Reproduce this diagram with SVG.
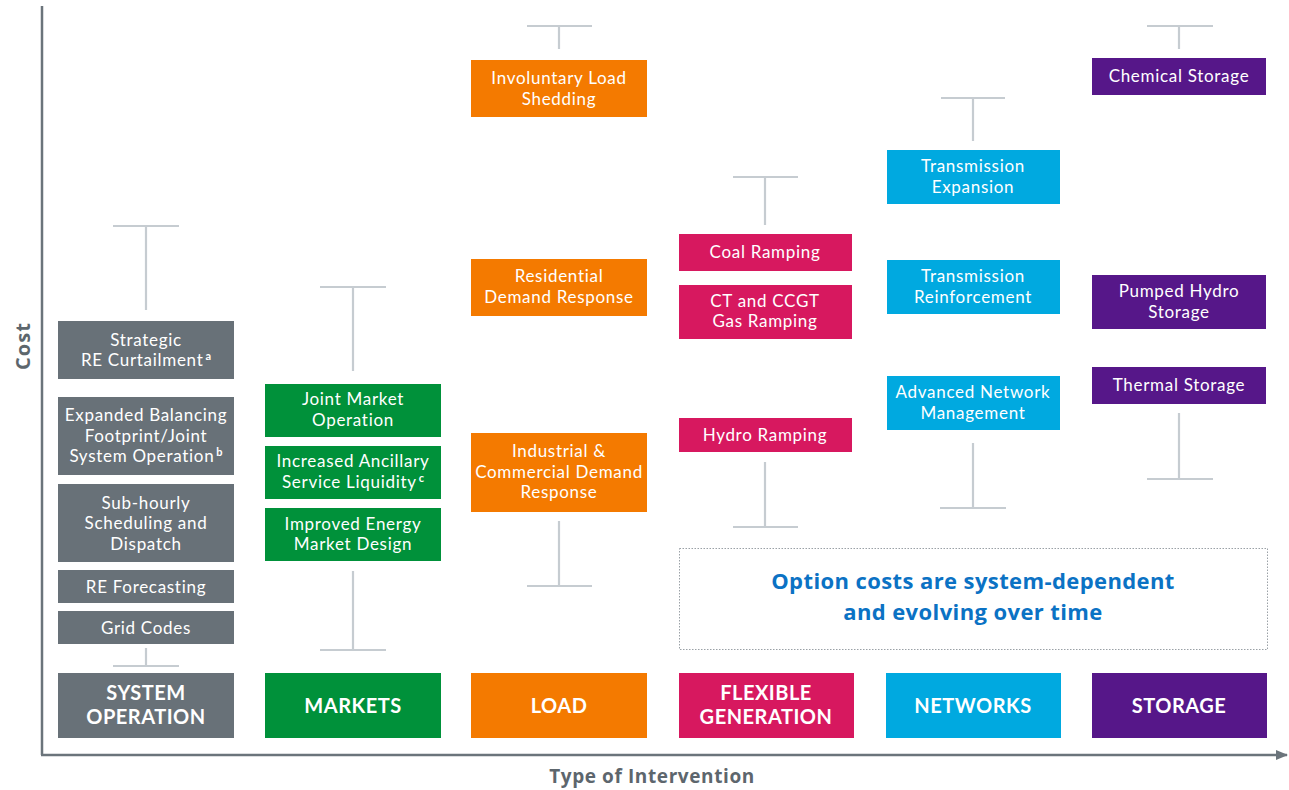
<svg xmlns="http://www.w3.org/2000/svg" width="1289" height="790" viewBox="0 0 1289 790">
<defs>
<marker id="ah" viewBox="0 0 10 10" refX="9" refY="5" markerWidth="5" markerHeight="5" orient="auto" markerUnits="strokeWidth">
<path d="M0,1 L10,5 L0,9 z" fill="#6b747b"/>
</marker>
<style>
.ax{stroke:#6b747b;stroke-width:2.5;fill:none}
.tb{stroke:#c6ccd1;stroke-width:2.2;fill:none}
.t{font-family:Lato,"Open Sans","DejaVu Sans",sans-serif;font-size:17px;letter-spacing:0.7px;fill:#ffffff;text-anchor:middle}
.c{font-family:Lato,"Open Sans","DejaVu Sans",sans-serif;font-size:20px;letter-spacing:0.5px;font-weight:bold;fill:#ffffff;text-anchor:middle}
.sup{font-size:11px;font-weight:bold;letter-spacing:0}
.axl{font-family:"Open Sans",Lato,"DejaVu Sans",sans-serif;font-size:19px;letter-spacing:0.6px;font-weight:bold;fill:#5d666d;text-anchor:middle}
.note{font-family:"Open Sans",Lato,"DejaVu Sans",sans-serif;font-size:22px;letter-spacing:0.4px;font-weight:bold;fill:#0b72c4;text-anchor:middle}
.gr{fill:#687178}.gn{fill:#00913a}.or{fill:#f47a00}.mg{fill:#d7185f}.cy{fill:#00a9e0}.pu{fill:#561789}
</style>
</defs>
<rect width="1289" height="790" fill="#ffffff"/>

<g id="axes">
<line class="ax" x1="42" y1="6" x2="42" y2="755"/>
<line class="ax" x1="41" y1="755" x2="1287" y2="755" marker-end="url(#ah)"/>
<text class="axl" style="font-size:20px;letter-spacing:1px" transform="translate(30,346) rotate(-90)">Cost</text>
<text class="axl" x="652" y="783">Type of Intervention</text>
</g>

<g id="connectors">
<path class="tb" d="M113,226H179M146,226V310"/>
<path class="tb" d="M146,648V666M113,666H179"/>
<path class="tb" d="M320,287H386M353,287V371"/>
<path class="tb" d="M353,571V650M320,650H386"/>
<path class="tb" d="M527,26H592M559,26V49"/>
<path class="tb" d="M559,521V586M527,586H592"/>
<path class="tb" d="M733,177H798M765,177V225"/>
<path class="tb" d="M765,462V527M733,527H798"/>
<path class="tb" d="M941,98H1005M973,98V141"/>
<path class="tb" d="M973,443V508M940,508H1006"/>
<path class="tb" d="M1147,26H1213M1179,26V49"/>
<path class="tb" d="M1179,413V479M1147,479H1213"/>
</g>

<g id="sysop">
<g id="n-strategic"><rect class="gr" x="58" y="321" width="176" height="58"/><text class="t" x="146" y="345.5">Strategic</text><text class="t" x="146" y="366">RE Curtailment<tspan class="sup" dx="2" dy="-6">a</tspan></text></g>
<g id="n-expanded"><rect class="gr" x="58" y="397" width="176" height="78"/><text class="t" x="146" y="421">Expanded Balancing</text><text class="t" x="146" y="441.5">Footprint/Joint</text><text class="t" x="146" y="462">System Operation<tspan class="sup" dx="2" dy="-6">b</tspan></text></g>
<g id="n-subhourly"><rect class="gr" x="58" y="484" width="176" height="78"/><text class="t" x="146" y="508.5">Sub-hourly</text><text class="t" x="146" y="529">Scheduling and</text><text class="t" x="146" y="549.5">Dispatch</text></g>
<g id="n-reforecast"><rect class="gr" x="58" y="570" width="176" height="33"/><text class="t" x="146" y="592.5">RE Forecasting</text></g>
<g id="n-gridcodes"><rect class="gr" x="58" y="611" width="176" height="33"/><text class="t" x="146" y="633.5">Grid Codes</text></g>
<g id="cat-sysop"><rect class="gr" x="58" y="673" width="176" height="65"/><text class="c" x="146" y="700">SYSTEM</text><text class="c" x="146" y="724">OPERATION</text></g>
</g>

<g id="markets">
<g id="n-jmo"><rect class="gn" x="265" y="384" width="176" height="53"/><text class="t" x="353" y="405">Joint Market</text><text class="t" x="353" y="425.5">Operation</text></g>
<g id="n-ancillary"><rect class="gn" x="265" y="446" width="176" height="53"/><text class="t" x="353" y="467">Increased Ancillary</text><text class="t" x="353" y="487.5">Service Liquidity<tspan class="sup" dx="2" dy="-6">c</tspan></text></g>
<g id="n-energy"><rect class="gn" x="265" y="508" width="176" height="53"/><text class="t" x="353" y="529.5">Improved Energy</text><text class="t" x="353" y="550">Market Design</text></g>
<g id="cat-markets"><rect class="gn" x="265" y="673" width="176" height="65"/><text class="c" x="353" y="713">MARKETS</text></g>
</g>

<g id="load">
<g id="n-involuntary"><rect class="or" x="471" y="60" width="176" height="57"/><text class="t" x="559" y="84">Involuntary Load</text><text class="t" x="559" y="104.5">Shedding</text></g>
<g id="n-residential"><rect class="or" x="471" y="259" width="176" height="57"/><text class="t" x="559" y="282">Residential</text><text class="t" x="559" y="302.5">Demand Response</text></g>
<g id="n-industrial"><rect class="or" x="471" y="433" width="176" height="79"/><text class="t" x="559" y="457">Industrial &amp;</text><text class="t" x="559" y="477.5">Commercial Demand</text><text class="t" x="559" y="498">Response</text></g>
<g id="cat-load"><rect class="or" x="471" y="673" width="176" height="65"/><text class="c" x="559" y="713">LOAD</text></g>
</g>

<g id="flexgen">
<g id="n-coal"><rect class="mg" x="679" y="234" width="173" height="37"/><text class="t" x="765" y="258">Coal Ramping</text></g>
<g id="n-ct"><rect class="mg" x="679" y="285" width="173" height="54"/><text class="t" x="765" y="306.5">CT and CCGT</text><text class="t" x="765" y="327">Gas Ramping</text></g>
<g id="n-hydro"><rect class="mg" x="679" y="418" width="173" height="34"/><text class="t" x="765" y="440.5">Hydro Ramping</text></g>
<g id="cat-flexgen"><rect class="mg" x="679" y="673" width="175" height="65"/><text class="c" x="766" y="700">FLEXIBLE</text><text class="c" x="766" y="724">GENERATION</text></g>
</g>

<g id="networks">
<g id="n-texp"><rect class="cy" x="887" y="150" width="173" height="54"/><text class="t" x="973" y="172">Transmission</text><text class="t" x="973" y="192.5">Expansion</text></g>
<g id="n-treinf"><rect class="cy" x="887" y="260" width="173" height="54"/><text class="t" x="973" y="282">Transmission</text><text class="t" x="973" y="302.5">Reinforcement</text></g>
<g id="n-anm"><rect class="cy" x="887" y="376" width="173" height="54"/><text class="t" x="973" y="398">Advanced Network</text><text class="t" x="973" y="418.5">Management</text></g>
<g id="cat-networks"><rect class="cy" x="886" y="673" width="175" height="65"/><text class="c" x="973" y="713">NETWORKS</text></g>
</g>

<g id="storage">
<g id="n-chemical"><rect class="pu" x="1092" y="58" width="174" height="37"/><text class="t" x="1179" y="82">Chemical Storage</text></g>
<g id="n-pumped"><rect class="pu" x="1092" y="275" width="174" height="54"/><text class="t" x="1179" y="297">Pumped Hydro</text><text class="t" x="1179" y="317.5">Storage</text></g>
<g id="n-thermal"><rect class="pu" x="1092" y="367" width="174" height="37"/><text class="t" x="1179" y="391">Thermal Storage</text></g>
<g id="cat-storage"><rect class="pu" x="1092" y="673" width="175" height="65"/><text class="c" x="1179" y="713">STORAGE</text></g>
</g>

<g id="note">
<rect x="679.5" y="548.5" width="588" height="101" fill="none" stroke="#9aa1a6" stroke-width="1" stroke-dasharray="1.5,1.5"/>
<text class="note" x="973" y="589">Option costs are system-dependent</text>
<text class="note" x="973" y="620">and evolving over time</text>
</g>
</svg>
